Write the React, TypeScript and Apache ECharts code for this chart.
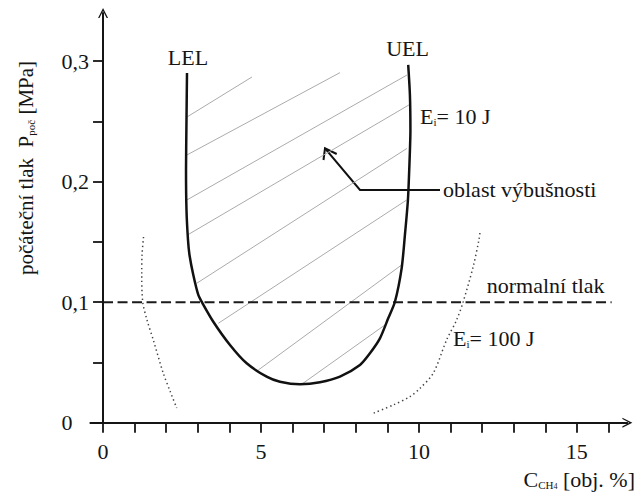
import React, { useEffect, useRef } from 'react';
import * as echarts from 'echarts';

const FONT = '"Liberation Serif", "Times New Roman", serif';
const INK = '#151515';

// explosion boundary (LEL branch -> minimum -> UEL branch), E_i = 10 J
const curveX = [2.658, 2.642, 2.627, 2.642, 2.690, 2.737, 2.858, 3.016, 3.123, 3.491, 4.019, 4.547, 5.180, 5.601, 6.234, 6.867, 7.500, 8.133, 8.449, 8.766, 9.028, 9.241, 9.453, 9.557, 9.652, 9.693, 9.731, 9.715, 9.661];
const curveY = [0.2902, 0.2512, 0.2097, 0.1765, 0.1516, 0.1392, 0.1226, 0.1060, 0.1004, 0.0838, 0.0645, 0.0493, 0.0382, 0.0340, 0.0319, 0.0335, 0.0382, 0.0479, 0.0576, 0.0700, 0.0866, 0.1004, 0.1281, 0.1558, 0.1848, 0.2097, 0.2429, 0.2720, 0.2969];

// E_i = 100 J dotted boundaries
const leftDotX = [1.282, 1.234, 1.225, 1.256, 1.392, 1.592, 1.908, 2.120, 2.332];
const leftDotY = [0.1541, 0.1392, 0.1242, 0.1004, 0.0852, 0.0686, 0.0410, 0.0263, 0.0122];
const rightDotX = [11.930, 11.899, 11.718, 11.402, 11.193, 10.877, 10.453, 10.032, 9.715, 9.187, 8.554];
const rightDotY = [0.1574, 0.1516, 0.1295, 0.1004, 0.0852, 0.0687, 0.0410, 0.0285, 0.0216, 0.0147, 0.0078];

// normal pressure line
const normalX = [0, 16.1];
const normalY = [0.1, 0.1];

// hatching segments inside the explosive region
const hatchX1 = [2.658, 2.658, 2.658, 2.674, 2.965, 3.649, 4.915, 6.288];
const hatchY1 = [0.2537, 0.2222, 0.1849, 0.1558, 0.1157, 0.0825, 0.0437, 0.0319];
const hatchX2 = [4.715, 7.500, 9.620, 9.684, 9.620, 9.611, 9.453, 8.924];
const hatchY2 = [0.2869, 0.2905, 0.2885, 0.2637, 0.2276, 0.1848, 0.1309, 0.0811];

// axes
const xTicks = [0, 1, 2, 3, 4, 5, 6, 7, 8, 9, 10, 11, 12, 13, 14, 15, 16];
const xLabels = [0, 5, 10, 15];
const yTicks = [0, 0.05, 0.1, 0.15, 0.2, 0.25, 0.3];
const yLabels = [0, 0.1, 0.2, 0.3];

const ARROW = 'path://M0,10 L5,0 L10,10 L8.6,10 L5,3 L1.4,10 Z';

function txt(x: number, y: number, text: string, align: string, rich?: any, extra?: any) {
  return {
    type: 'text',
    x,
    y,
    silent: true,
    ...(extra || {}),
    style: {
      text,
      fill: INK,
      font: `22px ${FONT}`,
      fontSize: 22,
      fontFamily: FONT,
      align,
      textAlign: align,
      verticalAlign: 'middle',
      textVerticalAlign: 'middle',
      rich,
    },
  };
}

const richBase = {
  a: { fontSize: 22, fontFamily: FONT, fill: INK, color: INK },
  s: { fontSize: 11, fontFamily: FONT, fill: INK, color: INK, verticalAlign: 'bottom', lineHeight: 14 },
  t: { fontSize: 8, fontFamily: FONT, fill: INK, color: INK, verticalAlign: 'bottom', lineHeight: 10 },
};

const richTitle = {
  a: { fontSize: 21, fontFamily: FONT, fill: INK, color: INK },
  s: { fontSize: 11, fontFamily: FONT, fill: INK, color: INK, verticalAlign: 'bottom', lineHeight: 14 },
};

export default function App() {
  const ref = useRef<HTMLDivElement>(null);
  useEffect(() => {
    if (!ref.current) return;
    const chart = echarts.init(ref.current, undefined, { renderer: 'svg' });
    const option: any = {
      animation: false,
      grid: { left: 90.4, right: 7.6, top: 13, bottom: 69.3, containLabel: false },
      xAxis: {
        type: 'value',
        min: -0.4,
        max: 16.6,
        splitLine: { show: false },
        axisLine: {
          onZero: true,
          symbol: ['none', ARROW],
          symbolSize: [12, 10],
          lineStyle: { color: INK, width: 2 },
        },
        axisTick: { show: true, length: 10, customValues: xTicks, lineStyle: { color: INK, width: 1.8 } },
        axisLabel: {
          customValues: xLabels,
          margin: 18,
          color: INK,
          fontSize: 22,
          fontFamily: FONT,
          formatter: (v: number) => String(v),
        },
      },
      yAxis: {
        type: 'value',
        min: 0,
        max: 0.34,
        splitLine: { show: false },
        axisLine: {
          onZero: true,
          symbol: ['none', ARROW],
          symbolSize: [12, 10],
          lineStyle: { color: INK, width: 2 },
        },
        axisTick: { show: true, length: 10, customValues: yTicks, lineStyle: { color: INK, width: 1.8 } },
        axisLabel: {
          customValues: yLabels,
          margin: 29,
          align: 'left',
          color: INK,
          fontSize: 22,
          fontFamily: FONT,
          formatter: (v: number) => (v === 0 ? '0' : v.toFixed(1).replace('.', ',')),
        },
      },
      series: [
        {
          type: 'lines',
          coordinateSystem: 'cartesian2d',
          silent: true,
          z: 1,
          lineStyle: { color: '#ababab', width: 1, opacity: 1 },
          data: hatchX1.map((x, i) => ({ coords: [[x, hatchY1[i]], [hatchX2[i], hatchY2[i]]] })),
        },
        {
          type: 'line',
          silent: true,
          z: 3,
          showSymbol: false,
          smooth: 0.25,
          lineStyle: { color: '#111', width: 2.5 },
          data: curveX.map((x, i) => [x, curveY[i]]),
        },
        {
          type: 'line',
          silent: true,
          z: 2,
          showSymbol: false,
          smooth: 0.3,
          lineStyle: { color: '#444', width: 1.5, type: [1.4, 3] },
          data: leftDotX.map((x, i) => [x, leftDotY[i]]),
        },
        {
          type: 'line',
          silent: true,
          z: 2,
          showSymbol: false,
          smooth: 0.3,
          lineStyle: { color: '#444', width: 1.5, type: [1.4, 3] },
          data: rightDotX.map((x, i) => [x, rightDotY[i]]),
        },
        {
          type: 'line',
          silent: true,
          z: 2,
          showSymbol: false,
          lineStyle: { color: '#1a1a1a', width: 2, type: [10, 4.5] },
          data: normalX.map((x, i) => [x, normalY[i]]),
        },
      ],
      graphic: [
        txt(188, 57.6, 'LEL', 'center'),
        txt(407.5, 48.6, 'UEL', 'center'),
        txt(420, 116.6, '{a|E}{s|i}{a|= 10 J}', 'left', richBase),
        txt(443, 189.3, 'oblast výbušnosti', 'left'),
        txt(486.7, 285.3, 'normalní tlak', 'left'),
        txt(453, 338.6, '{a|E}{s|i}{a|= 100 J}', 'left', richBase),
        txt(635, 479.3, '{a|C}{s|CH}{t|4}{a| [obj. %]}', 'right', richBase),
        txt(26, 168, '{a|počáteční tlak  P}{s|poč}{a| [MPa]}', 'center', richTitle, { rotation: Math.PI / 2 }),
        {
          type: 'polyline',
          silent: true,
          shape: { points: [[440, 190], [360, 190], [325, 148.3]] },
          style: { stroke: '#111', lineWidth: 2, fill: null },
        },
        {
          type: 'polyline',
          silent: true,
          shape: { points: [[323.5, 160], [325, 148.3], [336.7, 154]] },
          style: { stroke: '#111', lineWidth: 2, fill: null },
        },
      ],
    };
    chart.setOption(option);
    return () => chart.dispose();
  }, []);
  return (
    <div
      ref={ref}
      style={{ position: 'fixed', left: 0, top: 0, width: 635, height: 492, background: '#fff' }}
    />
  );
}
